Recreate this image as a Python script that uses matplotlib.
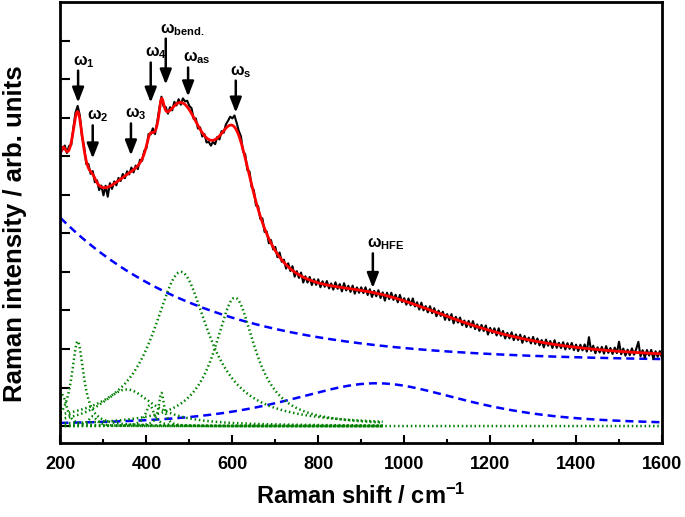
import numpy as np
import matplotlib
matplotlib.use("Agg")
import matplotlib.pyplot as plt

# ---- data (intensity in tick units, 0 = baseline) ----
# fitted lorentzian bands (green dotted)
peak_pos = [205, 240, 275, 354, 408, 435, 480, 606]
peak_height = [0.80, 2.20, 0.25, 0.95, 0.54, 0.86, 4.00, 3.33]
peak_hwhm = [12, 17, 12, 75, 12, 8, 80, 58]

# broad background (blue dashed, decaying) and HFE band (blue dashed, broad)
bg_offset, bg_amp, bg_decay = 1.68, 3.72, 336.0
hfe_pos, hfe_height, hfe_hwhm, hfe_eta = 935, 1.11, 250.0, 0.7

# measured spectrum minus fit, every 5 cm-1 from 200 to 1600 (x0.01)
resid = [5, -6, 8, -4, 10, -7, 6, 12, 15, 10, -5, 9, -8, 10, -6, 8, -10, 6, -12, 4,
         -20, 5, -25, 8, -10, 6, -8, 7, -5, 9, -6, 8, -4, 10, -7, 6, -9, 8, -5, 7,
         -6, 9, -4, 11, -8, 6, 8, 5, -7, 9, -5, 8, -6, 10, -4, 9, -6, 12, 8, 16,
         10, 14, -4, 8, -8, 5, -10, 4, -12, -6, -14, -4, -12, 3, -9, 6, -5, 10, 14, 22,
         18, 30, 20, 12, 15, -5, 10, -8, 12, -6, 9, -10, 8, -7, 11, -9, 6, -12, 8, -6,
         10, -8, 12, -5, 7, -10, 9, -6, 11, -12, 6, -8, 9, -14, 5, -9, 8, -11, 6, -7,
         9, -10, 7, -6, 10, -8, 6, -9, 11, -5, 8, -10, 12, -6, 7, -8, 9, -11, 6, -7,
         8, -6, 10, -9, 7, -12, 5, -8, 9, -10, 6, -14, 8, -7, 11, -6, 9, -9, 12, -5,
         7, -8, 10, -6, 14, -5, 8, -9, 11, -7, 6, -8, 10, -6, 9, -10, 7, -5, 8, -11,
         6, -8, 10, -12, 7, -6, 9, -9, 5, -10, 8, -7, 11, -8, 6, -9, 8, -6, 10, -12,
         7, -5, 9, -8, 12, -6, 8, -10, 6, -7, 10, -9, 7, -6, 9, -11, 8, -5, 6, -8,
         10, -7, 8, -9, 6, -12, 9, -6, 7, -10, 11, -8, 6, -7, 9, -9, 8, -6, 10, -8,
         7, -9, 8, -6, 10, -8, 30, -5, 9, -10, 6, -7, 8, -9, 11, -6, 7, -8, 9, -5,
         25, -7, 8, -10, 6, -8, 10, -6, 9, 28, -9, 7, -12, 8, -6, 9, -14, 6, -8, 7,
         -10]

# arrow markers: label, x, tail y, tip y
marks = [r"$\omega_{1}$", r"$\omega_{2}$", r"$\omega_{3}$", r"$\omega_{4}$",
         r"$\omega_{\mathrm{bend.}}$", r"$\omega_{\mathrm{as}}$", r"$\omega_{\mathrm{s}}$",
         r"$\omega_{\mathrm{HFE}}$"]
mark_x = [241, 275, 364, 410, 445, 497, 608, 927]
mark_tail = [9.22, 7.80, 7.85, 9.43, 10.05, 9.30, 8.96, 4.48]
mark_tip = [8.39, 6.94, 7.02, 8.39, 8.86, 8.55, 8.13, 3.58]


def lorentz(x, x0, h, w):
    return h / (1.0 + ((x - x0) / w) ** 2)


def pvoigt(x, x0, h, w, eta):
    g = np.exp(-np.log(2) * ((x - x0) / w) ** 2)
    return h * (eta * lorentz(x, x0, 1.0, w) + (1 - eta) * g)


def total_fit(x):
    y = bg_offset + bg_amp * np.exp(-(x - 200) / bg_decay)
    y = y + pvoigt(x, hfe_pos, hfe_height, hfe_hwhm, hfe_eta)
    for p, h, w in zip(peak_pos, peak_height, peak_hwhm):
        y = y + lorentz(x, p, h, w)
    return y


plt.rcParams["font.family"] = ["Liberation Sans", "DejaVu Sans"]
plt.rcParams["font.weight"] = "bold"
plt.rcParams["mathtext.fontset"] = "custom"
plt.rcParams["mathtext.rm"] = "Liberation Sans:bold"
plt.rcParams["mathtext.it"] = "Liberation Sans:bold"
plt.rcParams["mathtext.bf"] = "Liberation Sans:bold"
plt.rcParams["mathtext.sf"] = "Liberation Sans:bold"

fig = plt.figure(figsize=(6.85, 5.17), dpi=100)
ax = fig.add_axes([0.0883, 0.1431, 0.8781, 0.853])

xf = np.arange(200, 1601, 1.0)
xs = np.arange(200, 1601, 5.0)

# blue dashed components
bg = bg_offset + bg_amp * np.exp(-(xf - 200) / bg_decay)
hfe = pvoigt(xf, hfe_pos, hfe_height, hfe_hwhm, hfe_eta)
ax.plot(xf, bg, color="#0000ff", lw=1.8, ls=(0, (3.2, 2.0)))
ax.plot(xf, hfe, color="#0000ff", lw=1.8, ls=(0, (3.2, 2.0)))

# green dotted bands (drawn up to 950, one over the full range)
for k, (p, h, w) in enumerate(zip(peak_pos, peak_height, peak_hwhm)):
    xx = xf if k == 5 else xf[xf <= 950]
    ax.plot(xx, lorentz(xx, p, h, w), color="#008000", lw=1.8, ls=(0, (0.6, 1.1)))

# measured spectrum and total fit
meas = total_fit(xs) + np.array(resid) / 100.0
ax.plot(xs, meas, color="black", lw=1.5)
ax.plot(xf, total_fit(xf), color="#ff0000", lw=2.0)

for lab, x, y0, y1 in zip(marks, mark_x, mark_tail, mark_tip):
    ax.annotate("", xy=(x, y1), xytext=(x, y0),
                arrowprops=dict(arrowstyle="-|>,head_length=0.9,head_width=0.35",
                                mutation_scale=10, color="black", lw=1.8,
                                shrinkA=0, shrinkB=0))
    ax.text(x - 13, y0 + 0.15, lab, fontsize=11.5, ha="left", va="baseline")

ax.set_xlim(200, 1600)
ax.set_ylim(-0.44, 11.0)
ax.set_xticks(np.arange(200, 1601, 200))
ax.set_xticks(np.arange(300, 1600, 200), minor=True)
ax.set_yticks(np.arange(0, 11, 1))
ax.set_yticklabels([])
ax.tick_params(axis="x", which="major", direction="in", length=6, width=1.5,
               labelsize=13, pad=9)
ax.tick_params(axis="x", which="minor", direction="in", length=3, width=1.5)
ax.tick_params(axis="y", which="major", direction="in", length=7, width=1.5)
for lbl in ax.get_xticklabels():
    lbl.set_fontweight("bold")
for s in ax.spines.values():
    s.set_linewidth(2.0)

ax.set_xlabel(r"Raman shift / cm$^{-1}$", fontsize=17, fontweight="bold")
ax.set_ylabel("Raman intensity / arb. units", fontsize=18.5, fontweight="bold")
ax.xaxis.set_label_coords(0.5, -0.092)
ax.yaxis.set_label_coords(-0.055, 0.475)

fig.savefig("out.png", dpi=100)
